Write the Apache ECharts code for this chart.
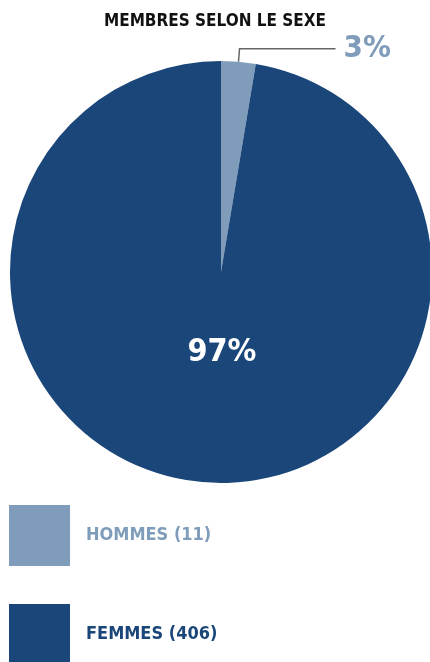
<!DOCTYPE html>
<html><head><meta charset="utf-8">
<script src="https://cdn.jsdelivr.net/npm/echarts@6/dist/echarts.min.js"></script>
<style>html,body{margin:0;padding:0;background:#fff}#c{width:430px;height:662px}</style>
</head><body><div id="c"></div>
<script>
const title = 'MEMBRES SELON LE SEXE';
const categories = ['HOMMES', 'FEMMES'];
const values = [11, 406];
const colors = ['#7f9cba', '#1a4679'];
const FONT = '"DejaVu Sans Condensed", "Liberation Sans Narrow", sans-serif';
const total = values.reduce((a, b) => a + b, 0);
const pct = v => Math.round(v / total * 100) + '%';

const chart = echarts.init(document.getElementById('c'));
chart.setOption({
  animation: false,
  title: {
    text: title, left: 'center', top: 8,
    textStyle: { fontFamily: FONT, fontSize: 17, fontWeight: 'bold', color: '#111' }
  },
  legend: {
    orient: 'vertical', left: 9, top: 505, height: 200, padding: 0,
    itemWidth: 61, itemHeight: 61, itemGap: 38,
    icon: 'rect', selectedMode: false,
    data: categories.map((c, i) => ({ name: c, textStyle: { color: colors[i] } })),
    formatter: name => name + ' (' + values[categories.indexOf(name)] + ')',
    textStyle: { fontFamily: FONT, fontSize: 18, fontWeight: 'bold', padding: [0, 0, 0, 11] }
  },
  series: [{
    type: 'pie',
    center: [221, 272], radius: 211,
    startAngle: 90, clockwise: true,
    avoidLabelOverlap: false,
    data: categories.map((c, i) => ({
      name: c, value: values[i],
      itemStyle: { color: colors[i] },
      label: i === 0 ? {
        show: true, position: 'outside',
        formatter: () => pct(values[i]),
        fontFamily: FONT, fontSize: 31, fontWeight: 'bold', color: colors[0],
        padding: [5, 0, 0, 3]
      } : {
        show: true, position: 'center', offset: [1, 81],
        formatter: () => pct(values[i]),
        fontFamily: FONT, fontSize: 32, fontWeight: 'bold', color: '#fff'
      },
      labelLine: i === 0 ? { show: true, length: 13, length2: 96, lineStyle: { color: '#666', width: 1.5 } } : { show: false }
    })),
    emphasis: { disabled: true }
  }]
});
</script></body></html>
